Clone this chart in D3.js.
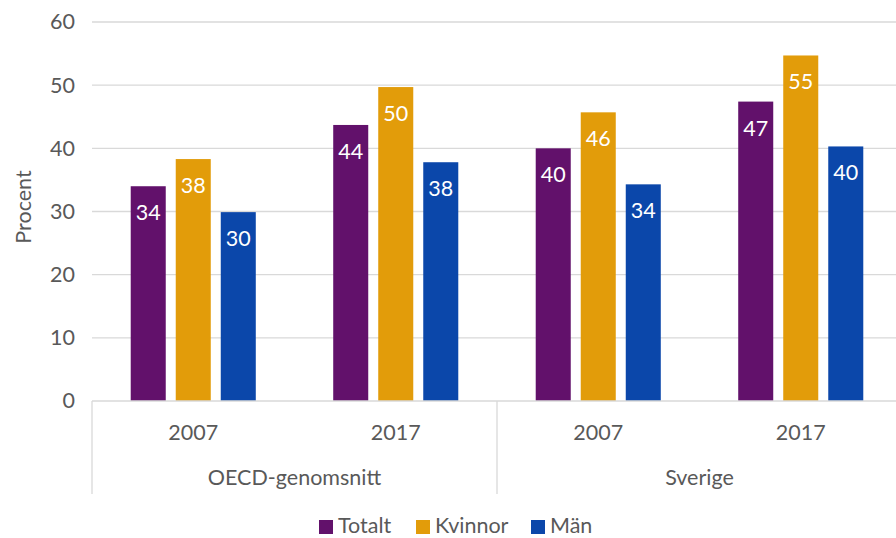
<!DOCTYPE html>
<html><head><meta charset="utf-8">
<script src="https://cdn.jsdelivr.net/npm/d3@7"></script>
<style>body{margin:0;background:#fff}svg{display:block}text{font-family:Lato,"Open Sans",sans-serif}</style>
</head><body><svg id="c" width="896" height="538"></svg>
<script>
const groups = ["OECD-genomsnitt", "Sverige"];
const years = ["2007", "2017"];
const series = ["Totalt", "Kvinnor", "Män"];
const colors = ["#62116B", "#E29C0A", "#0B47AA"];
// values per [group][year] in series order
const totalt  = [34.0, 43.7, 40.0, 47.4];
const kvinnor = [38.3, 49.7, 45.7, 54.7];
const man     = [29.9, 37.8, 34.3, 40.3];
const labelsTotalt  = ["34", "44", "40", "47"];
const labelsKvinnor = ["38", "50", "46", "55"];
const labelsMan     = ["30", "38", "34", "40"];
const yTicks = [0, 10, 20, 30, 40, 50, 60];

const FS = 21.5;
const svg = d3.select("#c");
const mLeft = 92, mRight = 902, mTop = 22, mBottom = 401;
const cats = [];
groups.forEach(g => years.forEach(y => cats.push(g + "|" + y)));
const x = d3.scaleBand().domain(cats).range([mLeft, mRight]);
const xs = d3.scaleBand().domain(series).range([0, x.bandwidth()]).paddingInner(0.222).paddingOuter(0.86);
const y = d3.scaleLinear().domain([0, 60]).range([mBottom, mTop]);

// gridlines
svg.append("g").selectAll("line").data(yTicks.filter(d => d > 0)).join("line")
  .attr("x1", mLeft).attr("x2", 896).attr("y1", d => y(d)).attr("y2", d => y(d))
  .attr("stroke", "#d9d9d9").attr("stroke-width", 1.3);

// y axis labels
const yAxis = d3.axisLeft(y).tickValues(yTicks).tickSize(0).tickPadding(17);
const ya = svg.append("g").attr("transform", `translate(${mLeft},0)`).call(yAxis);
ya.select(".domain").remove();
ya.selectAll("text").attr("font-size", FS).attr("fill", "#595959").attr("font-family", "Lato, 'Open Sans', sans-serif");

// title
svg.append("text").attr("transform", `translate(31,${207}) rotate(-90)`)
  .attr("text-anchor", "middle").attr("font-size", FS).attr("fill", "#595959").text("Procent");

const data = [totalt, kvinnor, man];
const labs = [labelsTotalt, labelsKvinnor, labelsMan];
series.forEach((s, si) => {
  const g = svg.append("g");
  g.selectAll("rect").data(cats).join("rect")
    .attr("x", (c) => x(c) + xs(s)).attr("width", xs.bandwidth())
    .attr("y", (c, i) => y(data[si][i])).attr("height", (c, i) => mBottom - y(data[si][i]))
    .attr("fill", colors[si]);
  g.selectAll("text").data(cats).join("text")
    .attr("x", c => x(c) + xs(s) + xs.bandwidth() / 2)
    .attr("y", (c, i) => y(data[si][i]) + 34)
    .attr("text-anchor", "middle").attr("font-size", FS).attr("fill", "#fff")
    .text((c, i) => labs[si][i]);
});

// baseline and separators
svg.append("line").attr("x1", mLeft).attr("x2", 896).attr("y1", mBottom).attr("y2", mBottom)
  .attr("stroke", "#d9d9d9").attr("stroke-width", 1.3);
const seps = [mLeft, x(cats[2]), mRight];
svg.append("g").selectAll("line").data(seps).join("line")
  .attr("x1", d => d).attr("x2", d => d).attr("y1", mBottom).attr("y2", 494)
  .attr("stroke", "#d9d9d9").attr("stroke-width", 1.3);

// year labels
svg.append("g").selectAll("text").data(cats).join("text")
  .attr("x", c => x(c) + x.bandwidth() / 2).attr("y", 440)
  .attr("text-anchor", "middle").attr("font-size", FS).attr("fill", "#595959")
  .text(c => c.split("|")[1]);
// group labels
svg.append("g").selectAll("text").data(groups).join("text")
  .attr("x", g => x(g + "|2007") + x.bandwidth()).attr("y", 485)
  .attr("text-anchor", "middle").attr("font-size", FS).attr("fill", "#595959")
  .text(g => g);

// legend
const legX = [319, 416, 531];
const lg = svg.append("g");
series.forEach((s, i) => {
  lg.append("rect").attr("x", legX[i]).attr("y", 520).attr("width", 14).attr("height", 14).attr("fill", colors[i]);
  lg.append("text").attr("x", legX[i] + 19).attr("y", 533).attr("font-size", FS).attr("fill", "#595959").text(s);
});
</script></body></html>
